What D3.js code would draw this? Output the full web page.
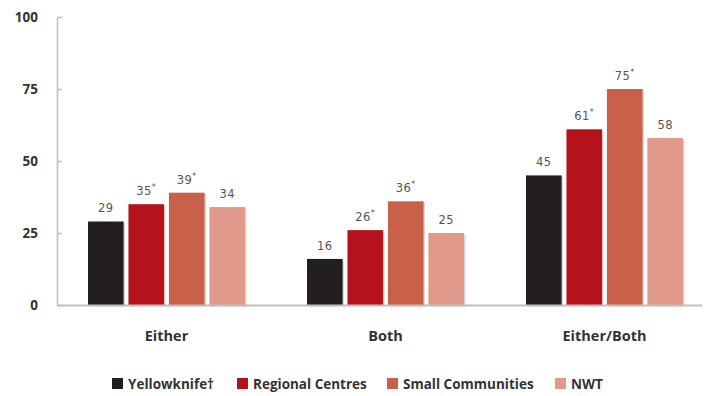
<!DOCTYPE html>
<html>
<head>
<meta charset="utf-8">
<script src="https://cdn.jsdelivr.net/npm/d3@7/dist/d3.min.js"></script>
<style>
  html, body { margin: 0; padding: 0; background: #fff; }
  svg { display: block; }
</style>
</head>
<body>
<svg id="chart" width="707" height="396"></svg>
<script>
// Categories, series and values
const categories = ["Either", "Both", "Either/Both"];
const seriesNames = ["Yellowknife†", "Regional Centres", "Small Communities", "NWT"];
const seriesColors = ["#231f20", "#b5121b", "#c9604a", "#e0998a"];
const yellowknife = [29, 16, 45];
const regional = [35, 26, 61];
const small = [39, 36, 75];
const nwt = [34, 25, 58];
// significance markers per series and category
const yellowknifeSig = [false, false, false];
const regionalSig = [true, true, true];
const smallSig = [true, true, true];
const nwtSig = [false, false, false];
const yTicks = [0, 25, 50, 75, 100];

const seriesValues = [yellowknife, regional, small, nwt];
const seriesSig = [yellowknifeSig, regionalSig, smallSig, nwtSig];

const rows = [];
categories.forEach((c, ci) => {
  seriesNames.forEach((s, si) => {
    rows.push({ cat: c, series: s, si, value: seriesValues[si][ci], sig: seriesSig[si][ci] });
  });
});

const svg = d3.select("#chart");
const x0 = d3.scaleBand().domain(categories).range([57, 714]).paddingInner(0).paddingOuter(0);
const x1 = d3.scaleBand().domain(seriesNames).range([0, 157]).paddingInner(0.12).paddingOuter(0);
const groupOffset = (x0.bandwidth() - 157) / 2;
const y = d3.scaleLinear().domain([0, 100]).range([305, 17]);

// Y axis
const yAxis = d3.axisLeft(y).tickValues(yTicks).tickSize(0).tickPadding(19);
const yg = svg.append("g").attr("transform", "translate(57,0)").call(yAxis);
yg.select(".domain").attr("stroke", "#bfbfbf").attr("stroke-width", 1.5);
yg.selectAll(".tick text")
  .attr("fill", "#333")
  .style("font-family", "'Open Sans', sans-serif")
  .style("font-weight", "700")
  .style("font-size", "13.5px");
yg.selectAll(".tick").append("line")
  .attr("x1", 0).attr("x2", 5)
  .attr("stroke", "#bfbfbf").attr("stroke-width", 1.5);

// Bars
const groups = svg.append("g").selectAll("g.grp")
  .data(categories).join("g")
  .attr("class", "grp")
  .attr("transform", d => `translate(${x0(d) + groupOffset},0)`);

groups.each(function (cat) {
  const g = d3.select(this);
  const data = rows.filter(r => r.cat === cat);
  // soft shadow behind bars
  g.selectAll("rect.shadow").data(data).join("rect")
    .attr("class", "shadow")
    .attr("x", d => x1(d.series) + 1.5)
    .attr("y", d => y(d.value) + 1.5)
    .attr("width", x1.bandwidth())
    .attr("height", d => y(0) - y(d.value))
    .attr("fill", "#d9d9d9");
  g.selectAll("rect.bar").data(data).join("rect")
    .attr("class", "bar")
    .attr("x", d => x1(d.series))
    .attr("y", d => y(d.value))
    .attr("width", x1.bandwidth())
    .attr("height", d => y(0) - y(d.value))
    .attr("fill", d => seriesColors[d.si]);
  const lbl = g.selectAll("text.val").data(data).join("text")
    .attr("class", "val")
    .attr("x", d => x1(d.series) + x1.bandwidth() / 2)
    .attr("y", d => y(d.value) - 9)
    .attr("text-anchor", "middle")
    .attr("fill", "#555")
    .style("font-family", "'DejaVu Sans', sans-serif")
    .style("font-size", "11.5px")
    .style("letter-spacing", "0.5px")
    .text(d => d.value);
  lbl.filter(d => d.sig).append("tspan")
    .attr("dy", -5)
    .style("font-size", "8px")
    .text("*");
});

// Baseline
svg.append("line")
  .attr("x1", 57).attr("x2", 702)
  .attr("y1", y(0) + 0.5).attr("y2", y(0) + 0.5)
  .attr("stroke", "#bfbfbf").attr("stroke-width", 2);

// Category labels
svg.append("g").selectAll("text").data(categories).join("text")
  .attr("x", d => x0(d) + x0.bandwidth() / 2)
  .attr("y", 341)
  .attr("text-anchor", "middle")
  .attr("fill", "#333")
  .style("font-family", "'Open Sans', sans-serif")
  .style("font-weight", "700")
  .style("font-size", "14.5px")
  .text(d => d);

// Legend
const legendX = [112, 237, 387, 555];
const leg = svg.append("g").selectAll("g").data(seriesNames).join("g")
  .attr("transform", (d, i) => `translate(${legendX[i]},378)`);
leg.append("rect").attr("width", 11).attr("height", 11).attr("fill", (d, i) => seriesColors[i]);
leg.append("text")
  .attr("x", 16).attr("y", 11)
  .attr("fill", "#333")
  .style("font-family", "'Open Sans', sans-serif")
  .style("font-weight", "700")
  .style("font-size", "13.5px")
  .text(d => d);
</script>
</body>
</html>
